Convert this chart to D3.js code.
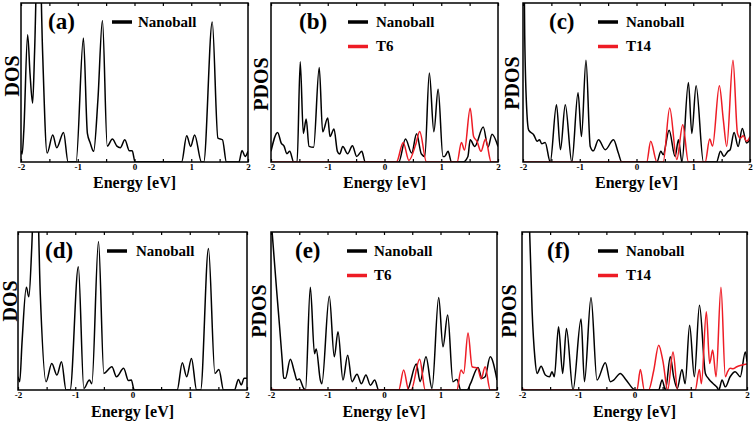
<!DOCTYPE html>
<html><head><meta charset="utf-8">
<script src="https://cdn.jsdelivr.net/npm/d3@7"></script>
<style>body{margin:0;background:#fff}svg{display:block}</style>
</head><body>
<svg id="c" width="756" height="423"></svg>
<script>
// ---------- data (energy in eV, DOS as % of panel height) ----------
const energyTicks = [-2, -1, 0, 1, 2];
const minorTicks = [-2, -1.5, -1, -0.5, 0, 0.5, 1, 1.5, 2];
const panelLabels = ["(a)", "(b)", "(c)", "(d)", "(e)", "(f)"];
const yLabels = ["DOS", "PDOS", "PDOS", "DOS", "PDOS", "PDOS"];
const seriesNames = ["Nanoball", "T6", "T14"];

const nanoballA = [[-2,7],[-1.98,5],[-1.95,20],[-1.883,80],[-1.84,55],[-1.795,37],[-1.76,70],[-1.69,160],[-1.62,70],[-1.54,5.6],[-1.44,17],[-1.37,9],[-1.25,18.6],[-1.17,0],[-1.03,0],[-0.90,78],[-0.83,18],[-0.78,12],[-0.72,6.7],[-0.645,39],[-0.565,89],[-0.48,10],[-0.39,14.4],[-0.31,10],[-0.25,9],[-0.17,14],[-0.09,7],[-0.04,7],[0.01,0],[0.83,0],[0.92,16.5],[0.99,9.8],[1.06,17],[1.18,0],[1.22,0],[1.37,88],[1.47,15],[1.55,14],[1.62,0],[1.84,0],[1.895,7.3],[1.95,3.5],[2,6.7]];

const nanoballB = [[-2,6.7],[-1.883,18.6],[-1.82,11.9],[-1.77,10],[-1.72,5.2],[-1.67,6.7],[-1.6,0],[-1.54,0],[-1.485,63],[-1.43,18],[-1.38,27],[-1.33,9.8],[-1.25,9.2],[-1.15,59.5],[-1.09,19],[-1.0,27.6],[-0.96,16],[-0.89,20.7],[-0.83,6.7],[-0.79,5],[-0.735,9.8],[-0.65,5.2],[-0.565,10.2],[-0.49,3.5],[-0.4,6.7],[-0.34,0],[0.25,0],[0.37,14.4],[0.48,5.6],[0.565,17.7],[0.65,5],[0.71,3.5],[0.79,56],[0.87,19],[0.945,45.7],[1.03,3.5],[1.06,3.5],[1.12,6.7],[1.18,0],[1.385,0],[1.47,3.5],[1.51,14],[1.59,9.8],[1.74,22],[1.825,9.4],[1.895,17.5],[2,9.8]];
const t6B = [[-2,0],[0.21,0],[0.33,12.3],[0.43,1],[0.55,11],[0.62,19.2],[0.74,0],[1.28,0],[1.355,12.3],[1.41,7.5],[1.51,33.8],[1.57,16],[1.63,13],[1.7,6.7],[1.78,14.4],[1.88,0],[2,0]];

const nanoballC = [[-2,200],[-1.97,80],[-1.93,30],[-1.9,20],[-1.81,17],[-1.75,13],[-1.71,14],[-1.67,11.5],[-1.61,12.3],[-1.52,0],[-1.41,36],[-1.34,7.7],[-1.255,36],[-1.14,0],[-1.03,43.6],[-0.97,16],[-0.89,64],[-0.815,9.8],[-0.76,7],[-0.67,14],[-0.55,7.7],[-0.405,14],[-0.32,5.6],[-0.26,0],[0.36,0],[0.43,6.7],[0.47,4.6],[0.575,20],[0.68,3.5],[0.74,14],[0.8,0],[0.915,50],[0.975,18],[1.05,48],[1.18,0],[1.41,0],[1.48,6.7],[1.54,3.5],[1.61,6.7],[1.65,7.7],[1.72,18.6],[1.79,9.8],[1.865,21],[1.94,12],[2,14]];
const t14C = [[-2,0],[0.18,0],[0.25,13],[0.36,0],[0.47,0],[0.585,34],[0.71,1.5],[0.815,23.4],[0.915,0],[1.21,0],[1.29,14.4],[1.34,10],[1.46,48],[1.53,26.5],[1.59,9.8],[1.7,64],[1.78,18],[1.83,15],[1.88,16.5],[1.94,13],[2,16]];

const nanoballD = [[-2,8.4],[-1.97,5.3],[-1.93,30],[-1.854,65],[-1.81,59],[-1.76,90],[-1.69,160],[-1.61,60],[-1.51,5.3],[-1.41,16.8],[-1.32,9.5],[-1.24,17.9],[-1.16,0],[-1.09,0],[-0.946,78],[-0.85,1],[-0.753,6.3],[-0.71,4],[-0.594,94],[-0.5,10.5],[-0.36,14.7],[-0.28,8.4],[-0.155,13.7],[-0.07,6],[-0.02,6.3],[0.03,0],[0.78,0],[0.87,17.3],[0.946,8.4],[1.03,20],[1.12,0],[1.19,0],[1.327,89.5],[1.44,10.5],[1.51,13],[1.59,0],[1.78,0],[1.85,6.7],[1.9,3.2],[1.95,7.4],[2,7.4]];

const nanoballE = [[-2,109],[-1.95,86],[-1.9,63],[-1.85,41],[-1.8,18],[-1.776,7.4],[-1.745,7.4],[-1.658,19.4],[-1.587,11.6],[-1.54,6.3],[-1.5,7],[-1.42,1],[-1.39,0],[-1.304,65],[-1.23,23],[-1.2,26],[-1.127,6.3],[-1.1,4],[-0.968,59.4],[-0.88,21],[-0.814,36.8],[-0.726,6.3],[-0.643,22],[-0.566,5.3],[-0.478,10],[-0.4,4],[-0.32,9.5],[-0.24,3],[-0.165,6.3],[-0.094,0],[0.41,0],[0.572,16.4],[0.64,5.3],[0.743,21],[0.85,1],[0.968,58.5],[1.044,27.4],[1.127,47.4],[1.22,5.3],[1.29,6.7],[1.36,0],[1.47,0],[1.53,4],[1.664,14.3],[1.735,7.4],[1.79,8.4],[1.88,21],[2,6.3]];
const t6E = [[-2,0.5],[-1.9,0],[0.26,0],[0.348,12.6],[0.437,0],[0.48,0],[0.631,19.4],[0.73,0],[1.29,0],[1.363,12.6],[1.41,10.5],[1.487,36],[1.56,14.7],[1.658,13.7],[1.72,7],[1.79,14.7],[1.88,0],[2,0]];

const nanoballF = [[-2,400],[-1.93,200],[-1.864,100],[-1.82,50],[-1.77,20],[-1.733,10.5],[-1.66,15],[-1.585,9.5],[-1.51,8.4],[-1.467,11.6],[-1.425,8.4],[-1.35,40],[-1.277,10.5],[-1.21,39],[-1.093,0],[-0.95,45],[-0.89,5.3],[-0.773,58.5],[-0.667,6.3],[-0.518,17.3],[-0.43,5.3],[-0.37,6.3],[-0.252,10.5],[-0.163,7],[0.015,0],[0.43,0],[0.49,6.3],[0.55,0],[0.637,21],[0.696,8.4],[0.76,1],[0.844,13],[0.9,4],[0.98,41],[1.064,8.4],[1.155,53.7],[1.26,10.5],[1.32,7],[1.4,4],[1.46,2],[1.5,0],[1.556,6.3],[1.615,2],[1.7,8.4],[1.79,11.6],[1.88,8.4],[1.97,24],[2,18]];
const t14F = [[-2,0.5],[-1.9,0],[0.044,0],[0.104,13],[0.175,0],[0.25,0],[0.34,12],[0.43,28.4],[0.507,17.9],[0.59,0],[0.685,24],[0.767,0],[1.08,0],[1.153,13],[1.19,4],[1.277,49.5],[1.336,16.8],[1.39,25.3],[1.45,8.4],[1.537,65],[1.615,8.4],[1.655,11.6],[1.7,13.7],[1.75,13.5],[1.82,14.7],[1.88,15.5],[2,16.4]];

// ---------- layout ----------
const panels = [
  {box:[21,3,248,162],   series:[nanoballA], names:[0], lab:[27,117,91], yl:[12,76],  eb:188},
  {box:[271,3,498,162],  series:[nanoballB,t6B], names:[0,1], lab:[28,105,77], yl:[261,84], eb:188},
  {box:[523,3,750,162],  series:[nanoballC,t14C], names:[0,2], lab:[26,103,75], yl:[512,83], eb:188},
  {box:[18,232,247,390], series:[nanoballD], names:[0], lab:[27,118,89], yl:[10,301], eb:417},
  {box:[271,232,497,390],series:[nanoballE,t6E], names:[0,1], lab:[24,103,76], yl:[259,311], eb:417},
  {box:[522,232,747,390],series:[nanoballF,t14F], names:[0,2], lab:[25,104,76], yl:[509,311], eb:417}
];
const colors = ["#000000", "#ee1c25"];
const font = "'Liberation Serif','Times New Roman',serif";

const svg = d3.select("#c");
panels.forEach((p, i) => {
  const [l, t, r, b] = p.box;
  const x = d3.scaleLinear().domain([-2, 2]).range([l, r]);
  const y = d3.scaleLinear().domain([0, 100]).range([b, t]);
  const g = svg.append("g");
  const cid = "clip" + i;
  g.append("clipPath").attr("id", cid).append("rect")
    .attr("x", l).attr("y", t).attr("width", r - l).attr("height", b - t);

  const line = d3.line().x(d => x(d[0])).y(d => y(d[1])).curve(d3.curveMonotoneX);
  p.series.forEach((s, k) => {
    g.append("path").datum(s).attr("d", line).attr("clip-path", `url(#${cid})`)
      .attr("fill", "none").attr("stroke", colors[k]).attr("stroke-width", 1.5)
      .attr("stroke-linejoin", "round");
  });

  // axes
  const ax = g.append("g").attr("transform", `translate(0,${b})`)
    .call(d3.axisBottom(x).tickValues(minorTicks).tickSize(-3).tickPadding(2)
      .tickFormat(d => energyTicks.includes(d) ? String(d) : ""));
  ax.select(".domain").remove();
  ax.selectAll("line").attr("stroke-width", 1.2);
  ax.selectAll("text").attr("font-family", font).attr("font-weight", "bold")
    .attr("font-size", 9).attr("fill", "#000");
  const at = g.append("g").attr("transform", `translate(0,${t})`)
    .call(d3.axisTop(x).tickValues(minorTicks).tickSize(-3).tickFormat(""));
  at.select(".domain").remove();
  at.selectAll("line").attr("stroke-width", 1.2);

  g.append("rect").attr("x", l).attr("y", t).attr("width", r - l).attr("height", b - t)
    .attr("fill", "none").attr("stroke", "#000").attr("stroke-width", 1.5);

  // labels
  g.append("text").attr("x", (l + r) / 2).attr("y", p.eb).attr("text-anchor", "middle")
    .attr("font-family", font).attr("font-weight", "bold").attr("font-size", 16)
    .text("Energy [eV]");
  g.append("text").attr("transform", `translate(${p.yl[0]},${p.yl[1]}) rotate(-90)`)
    .attr("text-anchor", "middle").attr("dy", "0.35em")
    .attr("font-family", font).attr("font-weight", "bold").attr("font-size", 20)
    .text(yLabels[i]);
  g.append("text").attr("x", l + p.lab[0]).attr("y", t + 26)
    .attr("font-family", font).attr("font-weight", "bold").attr("font-size", 23)
    .text(panelLabels[i]);
  p.names.forEach((n, k) => {
    const ly = t + 19 + k * 24.5;
    g.append("line").attr("x1", l + p.lab[2]).attr("x2", l + p.lab[2] + 20)
      .attr("y1", ly).attr("y2", ly).attr("stroke", colors[k]).attr("stroke-width", 3.5);
    g.append("text").attr("x", l + p.lab[1]).attr("y", ly + 4.8)
      .attr("font-family", font).attr("font-weight", "bold").attr("font-size", 15)
      .text(seriesNames[n]);
  });
});
</script>
</body></html>
